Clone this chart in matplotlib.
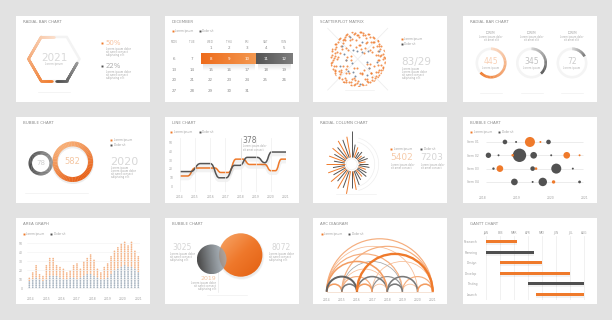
import numpy as np
import matplotlib.pyplot as plt
from matplotlib.patches import Rectangle, Circle, Wedge, Arc, PathPatch
from matplotlib.path import Path
from matplotlib.collections import LineCollection
from matplotlib.colors import LinearSegmentedColormap, to_rgb
import matplotlib.transforms as mtransforms

# ---------------- data ----------------
hex_year = '2021'
hex_share = [0.50, 0.22]                      # orange, dark

cal_month = 'DECEMBER'
cal_weekdays = ['MON', 'TUE', 'WED', 'THU', 'FRI', 'SAT', 'SUN']
cal_first_weekday = 2
cal_ndays = 31
cal_orange_days = [8, 9, 10]
cal_dark_days = [11, 12]

sc_orange_ang = [3, 11, 17, 24, 29, 36, 42, 47, 55, 61,
                 66, 73, 79, 84, 92, 97, 103, 110, 116, 121,
                 128, 134, 139, 147, 152, 158, 165, 171, 176, 183,
                 189, 196, 201, 207, 214, 219, 226, 232, 238, 243,
                 250, 256, 262, 268, 273, 280, 286, 291, 298, 304,
                 309, 316, 322, 328, 334, 341, 346, 353, 7, 21,
                 33, 51, 70, 88, 107, 125, 143, 161, 180, 198,
                 217, 235, 253, 271, 289, 307, 325, 344, 14, 39,
                 64, 95, 119, 149, 174, 204, 229, 259, 284, 313,
                 338, 357, 27, 58, 81, 137, 168, 222, 247, 277,
                 301, 331, 45, 100, 155, 210, 265, 320, 190, 75,
                 5, 19, 31, 44, 53, 68, 77, 86, 99, 113,
                 124, 131, 145, 156, 163, 178, 186, 193, 205, 212,
                 224, 236, 241, 254, 264, 270, 282, 294, 306, 311,
                 318, 326, 336, 343, 351, 359, 9, 49, 91, 132,
                 172, 213, 252, 293, 333, 12, 62, 112, 162, 212,
                 262, 312, 37, 87, 137, 187, 237, 287, 337, 357]
sc_orange_rad = [0.97, 0.91, 0.99, 0.86, 0.95, 0.92, 0.98, 0.84, 0.96, 0.90,
                 0.99, 0.88, 0.94, 0.97, 0.85, 0.93, 0.99, 0.89, 0.96, 0.92,
                 0.87, 0.98, 0.93, 0.96, 0.90, 0.99, 0.86, 0.94, 0.97, 0.91,
                 0.98, 0.88, 0.95, 0.92, 0.99, 0.85, 0.96, 0.90, 0.97, 0.93,
                 0.89, 0.99, 0.94, 0.87, 0.96, 0.92, 0.98, 0.86, 0.95, 0.91,
                 0.99, 0.88, 0.93, 0.97, 0.90, 0.95, 0.85, 0.98, 0.80, 0.78,
                 0.82, 0.76, 0.81, 0.79, 0.74, 0.83, 0.77, 0.80, 0.75, 0.82,
                 0.78, 0.84, 0.73, 0.80, 0.76, 0.82, 0.79, 0.74, 0.65, 0.70,
                 0.62, 0.68, 0.58, 0.66, 0.71, 0.60, 0.64, 0.69, 0.57, 0.67,
                 0.63, 0.72, 0.55, 0.45, 0.52, 0.48, 0.40, 0.56, 0.35, 0.50,
                 0.44, 0.38, 0.30, 0.42, 0.28, 0.47, 0.33, 0.51, 0.25, 0.36,
                 0.93, 0.97, 0.89, 0.99, 0.92, 0.95, 0.87, 0.98, 0.91, 0.96,
                 0.88, 0.99, 0.94, 0.90, 0.97, 0.86, 0.93, 0.99, 0.89, 0.95,
                 0.92, 0.98, 0.87, 0.96, 0.90, 0.99, 0.94, 0.88, 0.97, 0.91,
                 0.95, 0.86, 0.99, 0.92, 0.96, 0.89, 0.83, 0.81, 0.85, 0.78,
                 0.84, 0.80, 0.86, 0.79, 0.83, 0.72, 0.69, 0.75, 0.66, 0.71,
                 0.77, 0.68, 0.54, 0.49, 0.59, 0.43, 0.61, 0.53, 0.46, 0.74]
sc_gray_ang = [40, 75, 120, 160, 200, 250, 300, 340, 20, 95,
               140, 185, 230, 275, 320, 60, 110, 210, 350, 260]
sc_gray_rad = [0.45, 0.62, 0.38, 0.55, 0.70, 0.48, 0.66, 0.35, 0.80, 0.28,
               0.74, 0.42, 0.58, 0.88, 0.50, 0.30, 0.84, 0.25, 0.68, 0.60]
sc_label = '83/29'

rb_labels = ['445', '345', '72']
rb_share = [0.63, 0.38, 0.17]

ring_values = [78, 582]
ring_year = '2020'

line_years = ['2014', '2015', '2016', '2017', '2018', '2019', '2020', '2021']
line_dark_x = [0, 0.7, 1.35, 2.0, 2.6, 3.05, 3.6, 3.95, 4.45, 5.1, 5.6, 6.05, 7.0]
line_dark_y = [17, 17, 26, 26, 10, 10, 24, 24, 33, 33, 27, 39, 39]
line_orange_x = [0, 0.5, 1.0, 2.3, 2.7, 3.2, 3.7, 4.15, 4.6, 5.6, 6.0, 6.3, 6.7, 7.0]
line_orange_y = [12, 12, 21, 21, 16, 16, 31, 31, 25, 25, 18, 18, 31, 31]
line_note = '378'

rc_length = [26, 21, 19, 20, 15, 18, 13, 17, 11, 19, 12, 18, 14, 20, 15, 21, 18, 23,
             17, 19, 15, 11, 9, 12, 10, 8, 11, 9, 7, 10, 8, 6, 9, 7, 11, 13]
rc_series = [1, 0, 1, 0, 1, 0, 1, 0, 1, 0, 1, 0, 1, 0, 1, 0, 1, 0,
             1, 0, 1, 1, 0, 1, 1, 0, 1, 1, 0, 1, 1, 0, 1, 1, 0, 1]
rc_values = ['5402', '7203']

bp_rows = ['Item 01', 'Item 02', 'Item 03', 'Item 04']
bp_ticks = [0, 100, 200, 300]
bp_ticklabels = ['2018', '2019', '2020', '2021']
bp_orange_row = [0, 1, 1, 1, 2, 2, 3, 0]
bp_orange_x = [139, 88, 248, 286, 50, 157, 209, 170]
bp_orange_size = [52, 3.5, 23, 2, 23, 3.5, 6, 2]
bp_dark_row = [0, 0, 0, 1, 1, 1, 1, 1, 2, 2, 2, 2, 3, 3, 3, 3]
bp_dark_x = [65, 98, 194, 16, 46, 108, 150, 202, 31, 147, 217, 266, 93, 147, 177, 286]
bp_dark_size = [11, 2, 11, 15, 2, 93, 23, 2, 3, 11, 52, 2, 23, 2, 37, 4]

area_orange = [13, 18.5, 26, 16.7, 14.8, 26, 35, 35, 26, 24, 22, 18.5, 20, 26, 28, 22, 30,
               35, 39, 31.5, 22, 18.5, 24, 28, 37, 42.6, 46, 50, 53, 48, 52, 42.6, 37]
area_gray = [8, 10, 12, 10, 9, 11, 14, 15, 14, 12, 11, 10, 12, 13, 11, 12, 14,
             16, 17, 15, 12, 10, 11, 13, 16, 20, 22, 24, 26, 25, 24, 22, 18]
area_xlabels = ['2014', '2015', '2016', '2017', '2018', '2019', '2020', '2021']

venn_values = [3025, 8072]
venn_note = '2019'

arc_labels = ['2014', '2015', '2016', '2017', '2018', '2019', '2020', '2021']
arc_src = [0, 0, 1, 0, 2, 0, 1, 3, 1, 0, 2, 3, 4, 1, 5, 0, 1, 2, 3, 4, 5, 6]
arc_dst = [7, 6, 7, 5, 7, 4, 5, 7, 4, 2, 4, 5, 6, 3, 7, 1, 2, 3, 4, 5, 6, 7]
arc_weight = [2, 1, 2, 2, 5, 3, 1, 1, 1, 4, 3, 2, 3, 2, 2, 3, 3, 3, 1, 3, 1, 3]
arc_series = [0, 0, 0, 0, 0, 0, 1, 0, 0, 1, 1, 1, 1, 0, 0, 0, 1, 0, 0, 1, 0, 0]

gantt_tasks = ['Research', 'Planning', 'Design', 'Develop', 'Testing', 'Launch']
gantt_months = ['JAN', 'FEB', 'MAR', 'APR', 'MAY', 'JUN', 'JUL', 'AUG']
gantt_start = [0, 0, 1, 1, 3, 3.55]
gantt_end = [2.2, 3.45, 4.0, 6.0, 7.0, 7.0]
gantt_series = [0, 1, 0, 0, 1, 0]

# ---------------- style ----------------
ORANGE = '#ef7a2b'
DARK = '#4e4e4e'
TITLE = '#8c8c8c'
LABEL = '#a0a0a0'
LOREM = ['Lorem ipsum dolor', 'sit amet consect', 'adipiscing elit']

W, H = 612, 320
col_x = [16, 165, 313, 463]
row_y = [16, 117, 218]
PW, PH = 134, 86

fig = plt.figure(figsize=(6.12, 3.2), dpi=100)
fig.patch.set_facecolor('#e2e2e2')


def box(x, y, w, h, **kw):
    return fig.add_axes([x / W, 1 - (y + h) / H, w / W, h / H], **kw)


def clean(ax):
    ax.set_xticks([])
    ax.set_yticks([])
    for s in ax.spines.values():
        s.set_visible(False)


def panel(c, r, title):
    ax = box(col_x[c], row_y[r], PW, PH)
    ax.set_facecolor('white')
    clean(ax)
    ax.set_xlim(0, PW)
    ax.set_ylim(PH, 0)
    ax.text(7, 6.3, title, fontsize=2.9, color=TITLE, va='center')
    return ax


def inner(x, y, w, h, **kw):
    ax = box(x, y, w, h, **kw)
    ax.patch.set_alpha(0)
    for s in ax.spines.values():
        s.set_visible(False)
    ax.tick_params(length=0, labelsize=2.2, labelcolor=LABEL)
    return ax


def mix(c, t):
    rgb = np.array(to_rgb(c))
    return tuple(1 - t * (1 - rgb))


def para(ax, x, y, lines, ha='left', size=1.9, color='#a8a8a8', step=2.9):
    for k, s in enumerate(lines):
        ax.text(x, y + k * step, s, fontsize=size, color=color, ha=ha, va='center')


def legend(ax, x, y, color, text):
    ax.plot(x, y, 's', ms=1.4, color=color, mew=0)
    ax.text(x + 2.5, y, text, fontsize=2.1, color=LABEL, va='center')


def grad_ring(ax, cx, cy, r, w, frac, color, n=40, t0=0.25):
    for k in range(n):
        t1 = -90 + 360 * frac * k / n
        t2 = -90 + 360 * frac * (k + 1) / n + 0.8
        ax.add_patch(Wedge((cx, cy), r, t1, t2, width=w, lw=0,
                           color=mix(color, t0 + (1 - t0) * (k + 1) / n)))


# ---------- panel 1 : hexagon radial bar ----------
ax = panel(0, 0, 'RADIAL BAR CHART')
cx, cy, R = 38, 43, 25.5
hh = R * np.sqrt(3) / 2
hex_pts = np.array([(cx, cy + hh), (cx - R / 2, cy + hh), (cx - R, cy), (cx - R / 2, cy - hh),
                    (cx + R / 2, cy - hh), (cx + R, cy), (cx + R / 2, cy + hh), (cx, cy + hh)])
seg = np.hypot(*np.diff(hex_pts, axis=0).T)
cum = np.concatenate([[0], np.cumsum(seg)]) / seg.sum()


def hex_at(t):
    return np.column_stack([np.interp(t, cum, hex_pts[:, 0]), np.interp(t, cum, hex_pts[:, 1])])


ax.plot(hex_pts[:, 0], hex_pts[:, 1], color='#f3f3f3', lw=1.8, solid_joinstyle='round')
t = np.linspace(0.012, hex_share[0], 300)
p = hex_at(t)
segs = np.stack([p[:-1], p[1:]], axis=1)
lc = LineCollection(segs, colors=[mix(ORANGE, 1 - 0.75 * k / len(segs)) for k in range(len(segs))],
                    lw=1.8, capstyle='round')
ax.add_collection(lc)
t = np.linspace(1 - hex_share[1], 0.988, 150)
p = hex_at(t)
segs = np.stack([p[:-1], p[1:]], axis=1)
lc = LineCollection(segs, colors=[mix(DARK, 0.55 + 0.45 * k / len(segs)) for k in range(len(segs))],
                    lw=1.8, capstyle='round')
ax.add_collection(lc)
ax.text(cx, cy - 1, hex_year, ha='center', va='center', fontsize=7.5, color='#d9d9d9')
ax.text(cx, cy + 5, 'Lorem ipsum', ha='center', va='center', fontsize=2, color='#b5b5b5')
ax.plot([22, 54], [76, 76], color='#f0f0f0', lw=0.5)
for k, (share, c) in enumerate(zip(hex_share, [ORANGE, DARK])):
    yy = 27 + 23 * k
    ax.plot(86, yy, 's', ms=1.4, color=c, mew=0)
    ax.text(89.5, yy, f'{round(share * 100)}%', fontsize=5, va='center',
            color=mix(c, 0.45))
    para(ax, 90, yy + 6, LOREM)

# ---------- panel 2 : calendar ----------
ax = panel(1, 0, cal_month)
legend(ax, 7.7, 15, ORANGE, 'Lorem ipsum')
legend(ax, 35, 15, DARK, 'Dolor sit')
colx = 9 + 18.33 * np.arange(7)
rowy = 32.3 + 10.7 * np.arange(6)
for i, d in enumerate(cal_weekdays):
    ax.text(colx[i], 26, d, fontsize=2.1, ha='center', va='center', color=LABEL)


def cell(day):
    idx = cal_first_weekday + day - 1
    return idx // 7, idx % 7


for days, cmap in [(cal_orange_days, ['#ee6c1c', '#f39850']), (cal_dark_days, ['#555555', '#7d7d7d'])]:
    cells = [cell(d) for d in days]
    r0 = cells[0][0]
    x0 = colx[min(c for _, c in cells)] - 9.2
    x1 = colx[max(c for _, c in cells)] + 9.2
    y0, y1 = rowy[r0] - 5.2, rowy[r0] + 5.2
    sh = np.zeros((20, 2, 4))
    sh[..., 3] = np.linspace(0.13, 0, 20)[:, None]
    ax.imshow(sh, extent=(x0 + 2, x1 - 2, y1 + 7, y1 - 1), aspect='auto', zorder=1,
              interpolation='bilinear')
    g = np.linspace(0, 1, 64)[None, :]
    ax.imshow(g, extent=(x0, x1, y1, y0), aspect='auto', zorder=2,
              cmap=LinearSegmentedColormap.from_list('c', cmap), interpolation='bilinear')
hl = cal_orange_days + cal_dark_days
for d in range(1, cal_ndays + 1):
    r, c = cell(d)
    ax.text(colx[c], rowy[r], str(d), fontsize=2.9, ha='center', va='center', zorder=3,
            color='white' if d in hl else '#8a8a8a')

# ---------- panel 3 : scatterplot ----------
ax = panel(2, 0, 'SCATTERPLOT MATRIX')
ax.plot([14.7, 74.7], [12.3, 74], color='#eeeeee', lw=0.6)
ax.plot([74.7, 14.7], [12.3, 74], color='#eeeeee', lw=0.6)
ax.plot([32, 61], [74, 74], color='#f0f0f0', lw=0.5)
pax = box(330, 31, 56, 56, projection='polar')
pax.set_axis_off()
pax.set_ylim(0, 1)
pax.scatter(np.radians(sc_orange_ang), sc_orange_rad, s=2.2, color=ORANGE, lw=0, alpha=0.8)
pax.scatter(np.radians(sc_gray_ang), sc_gray_rad, s=2.0, color='#7d8fa3', lw=0)
legend(ax, 89, 23, ORANGE, 'Lorem ipsum')
legend(ax, 89, 28, DARK, 'Dolor sit')
ax.text(88, 46, sc_label, fontsize=7.5, color='#d6d6d6', va='center')
para(ax, 89, 53, ['Lorem ipsum'] + LOREM)

# ---------- panel 4 : three radial bars ----------
ax = panel(3, 0, 'RADIAL BAR CHART')
rcols = [ORANGE, DARK, '#6c6c6c']
for k, (lab, share) in enumerate(zip(rb_labels, rb_share)):
    rx = 28 + 40.5 * k
    ax.add_patch(Wedge((rx, 47), 15.5, 0, 360, width=2.6, color='#f4f4f4', lw=0))
    grad_ring(ax, rx, 47, 15.5, 2.6, share, rcols[k])
    ax.text(rx, 46, lab, fontsize=5.5, ha='center', va='center', color=mix(rcols[k], 0.35))
    ax.text(rx, 51.5, 'Lorem ipsum', fontsize=1.9, ha='center', va='center', color='#b0b0b0')
    ax.text(rx, 17, 'LOREM', fontsize=2.0, ha='center', va='center', color=LABEL)
    para(ax, rx, 20.6, ['Lorem ipsum dolor', 'sit amet elit'], ha='center', size=1.8, step=3.0)
    ax.plot([rx - 11, rx + 11], [77, 77], color='#f0f0f0', lw=0.5)

# ---------- panel 5 : bubble rings ----------
ax = panel(0, 1, 'BUBBLE CHART')
rr = [7.5 + 0.53 * np.sqrt(v) for v in ring_values]
c_dark = (24.7, 46.3)
c_or = (24.7 + rr[0] + rr[1] - 0.4, 44.7)
for k in range(3):
    ax.add_patch(Wedge((c_or[0], c_or[1] + 1.2), rr[1] + 0.8, 0, 360, width=6.5,
                       color='black', alpha=0.025, lw=0))
n = 72
for k in range(n):
    a1, a2 = 360 * k / n, 360 * (k + 1) / n + 0.8
    am = np.radians((a1 + a2) / 2)
    tt = 0.5 + 0.5 * np.cos(am - np.radians(60))
    ax.add_patch(Wedge(c_or, rr[1], a1, a2, width=5, lw=0,
                       color=tuple(np.array(to_rgb('#f7ac73')) * (1 - tt) + np.array(to_rgb('#e8631a')) * tt)))
    tt = 0.5 + 0.5 * np.cos(am - np.radians(180))
    ax.add_patch(Wedge(c_dark, rr[0], a1, a2, width=3.5, lw=0,
                       color=tuple(np.array(to_rgb('#8a8a8a')) * (1 - tt) + np.array(to_rgb('#4a4a4a')) * tt)))
ax.text(c_dark[0], c_dark[1], str(ring_values[0]), fontsize=5, ha='center', va='center', color='#cfcfcf')
ax.text(c_or[0], c_or[1], str(ring_values[1]), fontsize=6, ha='center', va='center', color='#f4c6a2')
legend(ax, 95, 23, ORANGE, 'Lorem ipsum')
legend(ax, 95, 28, DARK, 'Dolor sit')
ax.text(94, 45, ring_year, fontsize=8, color='#d8d8d8', va='center')
para(ax, 95, 51.5, ['Lorem ipsum'] + LOREM)
ax.plot([9, 72], [76, 76], color='#f0f0f0', lw=0.5)

# ---------- panel 6 : line chart ----------
ax = panel(1, 1, 'LINE CHART')
legend(ax, 6, 15, ORANGE, 'Lorem ipsum')
legend(ax, 35, 15, DARK, 'Dolor sit')
lax = inner(180, 138, 106, 54)
lax.set_xlim(0, 7)
lax.set_ylim(-6, 54.8)
lax.set_xticks(range(8))
lax.set_xticklabels(line_years)
lax.set_yticks(range(0, 51, 10))
lax.tick_params(axis='y', pad=5)
lax.tick_params(axis='x', pad=2.5)
lax.grid(axis='x', color='#eeeeee', lw=0.5)


def smooth_step(xs, ys):
    verts = [(xs[0], ys[0])]
    codes = [Path.MOVETO]
    for i in range(1, len(xs)):
        dx = (xs[i] - xs[i - 1]) / 2
        verts += [(xs[i - 1] + dx, ys[i - 1]), (xs[i] - dx, ys[i]), (xs[i], ys[i])]
        codes += [Path.CURVE4] * 3
    return Path(verts, codes)


shadow = mtransforms.offset_copy(lax.transData, fig=fig, x=0, y=-2.5, units='dots')
for xs, ys, c in [(line_orange_x, line_orange_y, ORANGE), (line_dark_x, line_dark_y, '#555555')]:
    pth = smooth_step(xs, ys)
    lax.add_patch(PathPatch(pth, fill=False, ec='black', lw=2.6, alpha=0.05, transform=shadow))
    lax.add_patch(PathPatch(pth, fill=False, ec=c, lw=1.1, capstyle='round'))
lax.plot([4, 4], [32, 54.8], color='#d5d5d5', lw=0.4)
lax.text(4.15, 52, line_note, fontsize=5.5, color='#7d7d7d', va='center')
for k, s in enumerate(LOREM[:2]):
    lax.text(4.15, 45.3 - 3.6 * k, s, fontsize=1.8, color='#a8a8a8', va='center')

# ---------- panel 7 : radial column ----------
ax = panel(2, 1, 'RADIAL COLUMN CHART')
rax = box(317.7, 130.3, 68, 68, projection='polar')
rax.set_axis_off()
rax.set_ylim(0, 34)
theta = np.radians(90 + 10 * np.arange(len(rc_length)))
r_in = 7
rc_cols = [ORANGE if s == 0 else '#555555' for s in rc_series]
rax.vlines(theta, r_in, r_in + np.array(rc_length), colors=rc_cols, lw=0.7)
arc_t = np.radians(np.linspace(-75, 75, 100))
for rad in [23, 27]:
    rax.plot(arc_t, np.full_like(arc_t, rad), color='#eeeeee', lw=0.5)
rax.plot(np.radians(np.linspace(0, 360, 120)), np.full(120, 5.5), color='#eeeeee', lw=0.5)
legend(ax, 78, 32, ORANGE, 'Lorem ipsum')
legend(ax, 108, 32, DARK, 'Dolor sit')
ax.text(77, 41, rc_values[0], fontsize=6.5, color='#f6cbaa', va='center')
ax.text(107, 41, rc_values[1], fontsize=6.5, color='#d6d6d6', va='center')
para(ax, 78, 48, LOREM[:2], size=1.8, step=3.0)
para(ax, 108, 48, LOREM[:2], size=1.8, step=3.0)
ax.plot([23, 63], [77, 77], color='#f0f0f0', lw=0.5)

# ---------- panel 8 : bubble dot plot ----------
ax = panel(3, 1, 'BUBBLE CHART')
legend(ax, 8, 15, ORANGE, 'Lorem ipsum')
legend(ax, 36, 15, DARK, 'Dolor sit')
bax = inner(483, 135.3, 101.3, 53.3)
bax.set_xlim(0, 300)
bax.set_ylim(3.5, -0.5)
bax.set_xticks(bp_ticks)
bax.set_xticklabels(bp_ticklabels)
bax.set_yticks(range(len(bp_rows)))
bax.set_yticklabels(bp_rows)
bax.tick_params(axis='x', pad=5)
bax.tick_params(axis='y', pad=3)
bax.hlines(range(len(bp_rows)), 8, 297, color='#e4e4e4', lw=0.5)
bax.scatter(bp_dark_x, bp_dark_row, s=bp_dark_size, color='#525252', lw=0, zorder=3, clip_on=False)
bax.scatter(bp_orange_x, bp_orange_row, s=bp_orange_size, color=ORANGE, lw=0, zorder=4, clip_on=False)

# ---------- panel 9 : dotted area graph ----------
ax = panel(0, 2, 'AREA GRAPH')
legend(ax, 8, 16, ORANGE, 'Lorem ipsum')
legend(ax, 35, 16, DARK, 'Dolor sit')
aax = inner(27, 240, 113, 52)
aax.set_xlim(-0.68, 32.5)
aax.set_ylim(-4.1, 53.7)
aax.set_yticks(range(0, 51, 10))
aax.set_xticks([0.5, 5, 9.5, 14, 18.5, 23, 27.5, 32])
aax.set_xticklabels(area_xlabels)
aax.tick_params(axis='y', pad=3)
aax.tick_params(axis='x', pad=3.5)
aax.grid(axis='y', color='#f2f2f2', lw=0.4)
for i, (o, g) in enumerate(zip(area_orange, area_gray)):
    lv = np.arange(1.0, o, 2.0)
    cols = ['#a9b5c1' if v < g else '#f4b488' for v in lv]
    aax.scatter(np.full(len(lv), i), lv, s=1.5, c=cols, lw=0)

# ---------- panel 10 : venn bubbles ----------
ax = panel(1, 2, 'BUBBLE CHART')
vr = [4 + 0.197 * np.sqrt(v) for v in venn_values]
c_big = (75.7, 37)
c_small = (46.7, 41.3)
for k in range(4):
    ax.add_patch(Circle((c_big[0] + 0.5, c_big[1] + 1.5), vr[1] + 1.6 - 0.4 * k,
                        color='black', alpha=0.02, lw=0))
gx, gy = np.meshgrid(np.linspace(0, 1, 80), np.linspace(0, 1, 80))
im = ax.imshow((gx + gy) / 2, extent=(c_big[0] - vr[1], c_big[0] + vr[1], c_big[1] + vr[1], c_big[1] - vr[1]),
               cmap=LinearSegmentedColormap.from_list('o', ['#f7a86b', '#ef782b', '#e25f10']),
               aspect='auto', zorder=2, interpolation='bilinear')
im.set_clip_path(Circle(c_big, vr[1], transform=ax.transData))
dark_rgba = np.zeros((80, 80, 4))
c0, c1 = np.array(to_rgb('#4a4a4a')), np.array(to_rgb('#9eabb5'))
tx = np.clip(gx * 1.1 - gy * 0.15, 0, 1)
dark_rgba[..., :3] = c0 * (1 - tx[..., None]) + c1 * tx[..., None]
dark_rgba[..., 3] = 0.97 - 0.2 * tx
im = ax.imshow(dark_rgba, extent=(c_small[0] - vr[0], c_small[0] + vr[0], c_small[1] + vr[0], c_small[1] - vr[0]),
               aspect='auto', zorder=3, interpolation='bilinear')
im.set_clip_path(Circle(c_small, vr[0], transform=ax.transData))
ax.text(7, 30, str(venn_values[0]), fontsize=5.5, color='#d6d6d6', va='center')
para(ax, 5, 36, LOREM)
ax.text(106, 30, str(venn_values[1]), fontsize=5.5, color='#d6d6d6', va='center')
para(ax, 104, 36, LOREM)
ax.text(51, 60, venn_note, fontsize=4.5, color='#f4c6a2', va='center', ha='right')
para(ax, 51, 65, LOREM, ha='right')
ax.plot([53, 53], [52, 74], color='#e3e3e3', lw=0.4)
ax.plot([42, 82], [77, 77], color='#f0f0f0', lw=0.5)

# ---------- panel 11 : arc diagram ----------
ax = panel(2, 2, 'ARC DIAGRAM')
legend(ax, 9, 16, ORANGE, 'Lorem ipsum')
legend(ax, 36, 16, DARK, 'Dolor sit')
cax = inner(320, 225, 120, 69)
cax.set_xlim(-0.44, 7.48)
cax.set_ylim(-0.15, 4.41)
cax.set_xticks(range(len(arc_labels)))
cax.set_xticklabels(arc_labels)
cax.set_yticks([])
cax.tick_params(axis='x', pad=3)
cax.plot([0, 7], [0, 0], color='#f3d9c6', lw=0.5)
order = np.argsort(arc_weight)
for i in order:
    a, b = arc_src[i], arc_dst[i]
    w = arc_weight[i]
    c = ORANGE if arc_series[i] == 0 else '#4a4a4a'
    cax.add_patch(Arc(((a + b) / 2, 0), b - a, b - a, theta1=0, theta2=180,
                      color=mix(c, 0.35 + 0.13 * w), lw=0.3 + 0.28 * w))

# ---------- panel 12 : gantt ----------
ax = panel(3, 2, 'GANTT CHART')
gax = inner(480, 236, 110, 64)
gax.set_xlim(-0.43, 7.41)
gax.set_ylim(5.54, -0.54)
gax.xaxis.tick_top()
gax.set_xticks(range(len(gantt_months)))
gax.set_xticklabels(gantt_months)
gax.set_yticks(range(len(gantt_tasks)))
gax.set_yticklabels(gantt_tasks)
gax.tick_params(axis='x', pad=1)
gax.tick_params(axis='y', pad=2)
gax.grid(axis='x', color='#ececec', lw=0.5)
gax.set_axisbelow(True)
rows = np.arange(len(gantt_tasks))
dur = np.array(gantt_end) - np.array(gantt_start)
gax.barh(rows + 0.2, dur, left=gantt_start, height=0.3, color='black', alpha=0.05)
gax.barh(rows, dur, left=gantt_start, height=0.26,
         color=[ORANGE if s == 0 else '#4f4f4f' for s in gantt_series])

fig.savefig('out.png', dpi=100, facecolor=fig.get_facecolor())
